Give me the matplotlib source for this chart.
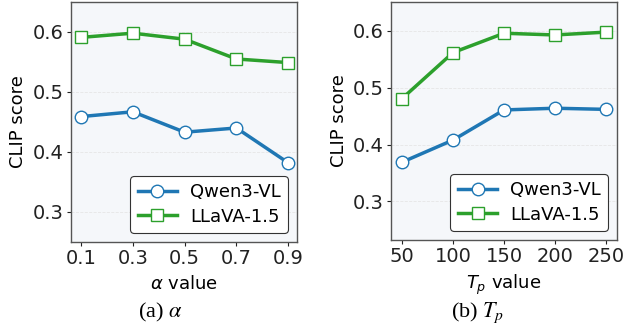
import matplotlib
matplotlib.use("Agg")
import matplotlib.pyplot as plt

alpha_vals = [0.1, 0.3, 0.5, 0.7, 0.9]
alpha_qwen = [0.459, 0.467, 0.433, 0.440, 0.382]
alpha_llava = [0.591, 0.598, 0.588, 0.555, 0.549]

tp_vals = [50, 100, 150, 200, 250]
tp_qwen = [0.369, 0.408, 0.461, 0.464, 0.462]
tp_llava = [0.481, 0.562, 0.596, 0.593, 0.598]

y_ticks = [0.3, 0.4, 0.5, 0.6]

blue = "#1f77b4"
green = "#2ca02c"


def draw(ax, x, qwen, llava, xlabel, xlim, ylim):
    ax.set_facecolor("#f5f7fa")
    ax.plot(x, qwen, color=blue, lw=2.5, marker="o", ms=9,
            mfc="white", mec=blue, mew=1.0, label="Qwen3-VL")
    ax.plot(x, llava, color=green, lw=2.5, marker="s", ms=9,
            mfc="white", mec=green, mew=1.0, label="LLaVA-1.5")
    ax.set_xticks(x)
    ax.set_xticklabels([str(v) for v in x])
    ax.set_yticks(y_ticks)
    ax.set_ylim(*ylim)
    ax.set_xlim(*xlim)
    ax.yaxis.grid(True, color="#e6e6e6", lw=0.6, ls="--")
    ax.set_axisbelow(True)
    ax.tick_params(labelsize=14, length=3, width=0.8, colors="#222222", pad=2)
    for s in ax.spines.values():
        s.set_color("#555555")
        s.set_linewidth(1.0)
    ax.set_ylabel("CLIP score", fontsize=13)
    ax.set_xlabel(xlabel, fontsize=13, labelpad=5)
    leg = ax.legend(loc="lower right", fontsize=13, frameon=True, fancybox=True,
                    edgecolor="#333333", framealpha=1.0, handlelength=2.2,
                    handletextpad=0.7, borderpad=0.4, labelspacing=0.35)
    leg.get_frame().set_linewidth(0.8)


fig = plt.figure(figsize=(6.32, 3.25), dpi=100)
ax1 = fig.add_axes([0.1123, 0.2554, 0.3576, 0.7385])
ax2 = fig.add_axes([0.6187, 0.2615, 0.3576, 0.7323])

draw(ax1, alpha_vals, alpha_qwen, alpha_llava, r"$\alpha$ value",
     (0.061, 0.934), (0.25, 0.65))
draw(ax2, tp_vals, tp_qwen, tp_llava, r"$T_p$ value",
     (39.2, 260.8), (0.232, 0.651))

fig.text(0.253, 0.037, r"(a) $\alpha$", ha="center", va="center",
         fontsize=16, family="Liberation Serif", math_fontfamily="stix")
fig.text(0.755, 0.037, r"(b) $T_p$", ha="center", va="center",
         fontsize=16, family="Liberation Serif", math_fontfamily="stix")

fig.savefig("out.png", dpi=100)
